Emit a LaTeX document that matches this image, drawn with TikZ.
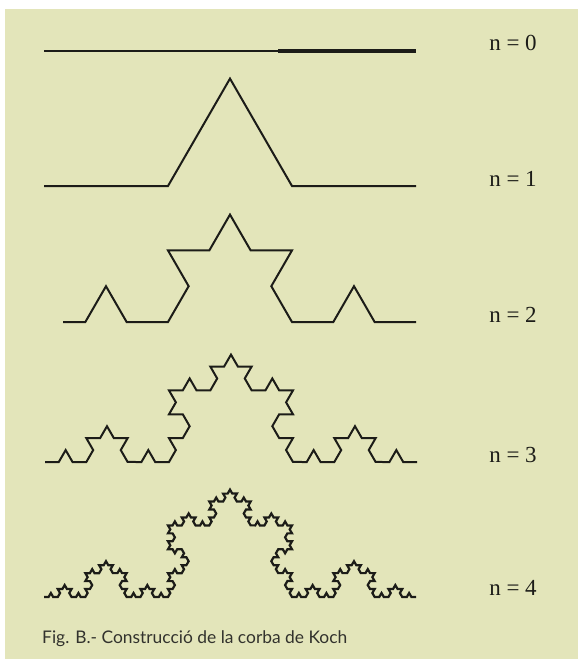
\documentclass[tikz,border=0pt]{standalone}
\usepackage{fontspec}
\setmainfont{Liberation Serif}
\newfontfamily\capfont{Lato}
\usetikzlibrary{decorations.fractals}
\definecolor{bg}{RGB}{227,229,186}
\definecolor{ink}{RGB}{28,28,24}
\definecolor{capink}{RGB}{50,50,45}
\begin{document}
\begin{tikzpicture}[x=1pt,y=-1pt,
  koch/.style={draw=ink,line width=2pt,line join=miter,decoration={Koch snowflake}},
  lab/.style={font=\fontsize{23}{23}\selectfont,text=ink,inner sep=0pt},
  capstyle/.style={font=\capfont\fontsize{17.4}{17.4}\selectfont,text=capink,inner sep=0pt,anchor=west}
]
\useasboundingbox (0,0) rectangle (578,659);
\fill[white] (0,0) rectangle (578,659);
\fill[bg] (5,9) rectangle (578,659);

% n = 0
\coordinate (a0) at (44,51);
\coordinate (b0) at (416,51);
\coordinate (c0) at (278,51);
\draw[ink,line width=1.8pt] (a0) -- (b0);
\draw[ink,line width=3.6pt] (c0) -- (b0);

% n = 1
\coordinate (a1) at (44,186);
\coordinate (b1) at (416,186);
\path[koch] decorate{(a1) -- (b1)};

% n = 2
\coordinate (a2) at (44,322);
\coordinate (b2) at (416,322);
\begin{scope}
  \clip (63,150) rectangle (578,340);
  \path[koch] decorate{decorate{(a2) -- (b2)}};
\end{scope}

% n = 3
\coordinate (a3) at (45,462);
\coordinate (b3) at (417,462);
\path[koch] decorate{decorate{decorate{(a3) -- (b3)}}};

% n = 4
\coordinate (a4) at (44,597);
\coordinate (b4) at (416,597);
\path[koch,line width=2.2pt] decorate{decorate{decorate{decorate{(a4) -- (b4)}}}};

% labels
\node[lab] (l0) at (513,43) {n = 0};
\node[lab] (l1) at (513,179) {n = 1};
\node[lab] (l2) at (513,315) {n = 2};
\node[lab] (l3) at (513,455) {n = 3};
\node[lab] (l4) at (513,588) {n = 4};

\node[capstyle] (cap) at (42,639) {Fig. B.- Construcció de la corba de Koch};
\end{tikzpicture}
\end{document}
